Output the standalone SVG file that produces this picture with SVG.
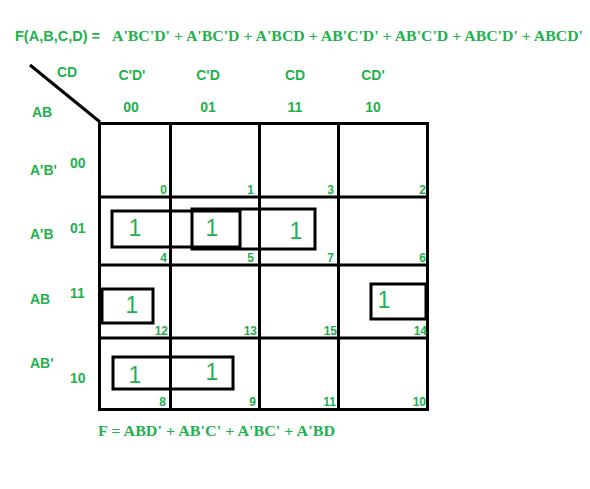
<svg xmlns="http://www.w3.org/2000/svg" width="590" height="489" viewBox="0 0 590 489">
<style>
.t{fill:#22b14c;font-family:"Liberation Sans",Arial,sans-serif;font-weight:bold;font-size:14px}
.s{fill:#22b14c;font-family:"Liberation Serif","Times New Roman",serif;font-weight:bold;font-size:15px}
.n{fill:#22b14c;font-family:"Liberation Sans",Arial,sans-serif;font-weight:bold;font-size:12px;text-anchor:end}
.one{fill:#22b14c;font-family:"Liberation Sans",Arial,sans-serif;font-size:23px;text-anchor:middle}
.c{text-anchor:middle}
.g{stroke:#000;stroke-width:3;fill:none}
.loop{stroke:#000;stroke-width:3;fill:none}
</style>
<rect width="590" height="489" fill="#fff"/>
<g id="title">
<text class="t" x="15" y="41" font-size="15" textLength="85" lengthAdjust="spacingAndGlyphs">F(A,B,C,D) =</text>
<text class="s" x="112" y="41" textLength="471" lengthAdjust="spacingAndGlyphs">A'BC'D' + A'BC'D + A'BCD + AB'C'D' + AB'C'D + ABC'D' + ABCD'</text>
</g>
<g id="connectors">
<line class="g" x1="30" y1="65" x2="100" y2="122"/>
<rect class="g" x="99.5" y="123.5" width="328" height="286"/>
<line class="g" x1="170.5" y1="123" x2="170.5" y2="410"/>
<line class="g" x1="259.5" y1="123" x2="259.5" y2="410"/>
<line class="g" x1="338.5" y1="123" x2="338.5" y2="410"/>
<line class="g" x1="98" y1="197" x2="428" y2="197"/>
<line class="g" x1="98" y1="265" x2="428" y2="265"/>
<line class="g" x1="98" y1="338" x2="428" y2="338"/>
</g>
<g id="headers">
<text class="t" x="57" y="77">CD</text>
<text class="t" x="32" y="117">AB</text>
<text class="t c" x="132" y="80">C'D'</text>
<text class="t c" x="208" y="80">C'D</text>
<text class="t c" x="295" y="80">CD</text>
<text class="t c" x="373" y="80">CD'</text>
<text class="t c" x="131" y="112">00</text>
<text class="t c" x="208" y="112">01</text>
<text class="t c" x="295" y="112">11</text>
<text class="t c" x="373" y="112">10</text>
<text class="t" x="30" y="175">A'B'</text>
<text class="t" x="70" y="168">00</text>
<text class="t" x="30" y="239">A'B</text>
<text class="t" x="70" y="233">01</text>
<text class="t" x="30" y="304">AB</text>
<text class="t" x="70" y="298">11</text>
<text class="t" x="30" y="368">AB'</text>
<text class="t" x="70" y="383">10</text>
</g>
<g id="cells">
<text class="n" x="167" y="194">0</text>
<text class="n" x="254" y="194">1</text>
<text class="n" x="334" y="194">3</text>
<text class="n" x="426" y="194">2</text>
<text class="n" x="167" y="262">4</text>
<text class="n" x="254" y="262">5</text>
<text class="n" x="334" y="262">7</text>
<text class="n" x="426" y="262">6</text>
<text class="n" x="168" y="335">12</text>
<text class="n" x="257" y="335">13</text>
<text class="n" x="337" y="335">15</text>
<text class="n" x="427" y="335">14</text>
<text class="n" x="166" y="406">8</text>
<text class="n" x="256" y="406">9</text>
<text class="n" x="336" y="406">11</text>
<text class="n" x="426" y="406">10</text>
</g>
<g id="ones">
<text class="one" x="135" y="236">1</text>
<text class="one" x="212" y="236">1</text>
<text class="one" x="296" y="239">1</text>
<text class="one" x="132" y="313">1</text>
<text class="one" x="384" y="308">1</text>
<text class="one" x="135" y="383">1</text>
<text class="one" x="212" y="380">1</text>
</g>
<g id="loops">
<rect class="loop" x="112" y="211" width="128" height="36"/>
<rect class="loop" x="192" y="209" width="123" height="40"/>
<rect class="loop" x="102" y="289" width="51" height="34"/>
<rect class="loop" x="371" y="284" width="55" height="35"/>
<rect class="loop" x="113" y="357" width="120" height="32"/>
</g>
<g id="result">
<text class="s" x="98" y="436" textLength="237" lengthAdjust="spacingAndGlyphs">F = ABD' + AB'C' + A'BC' + A'BD</text>
</g>
</svg>
